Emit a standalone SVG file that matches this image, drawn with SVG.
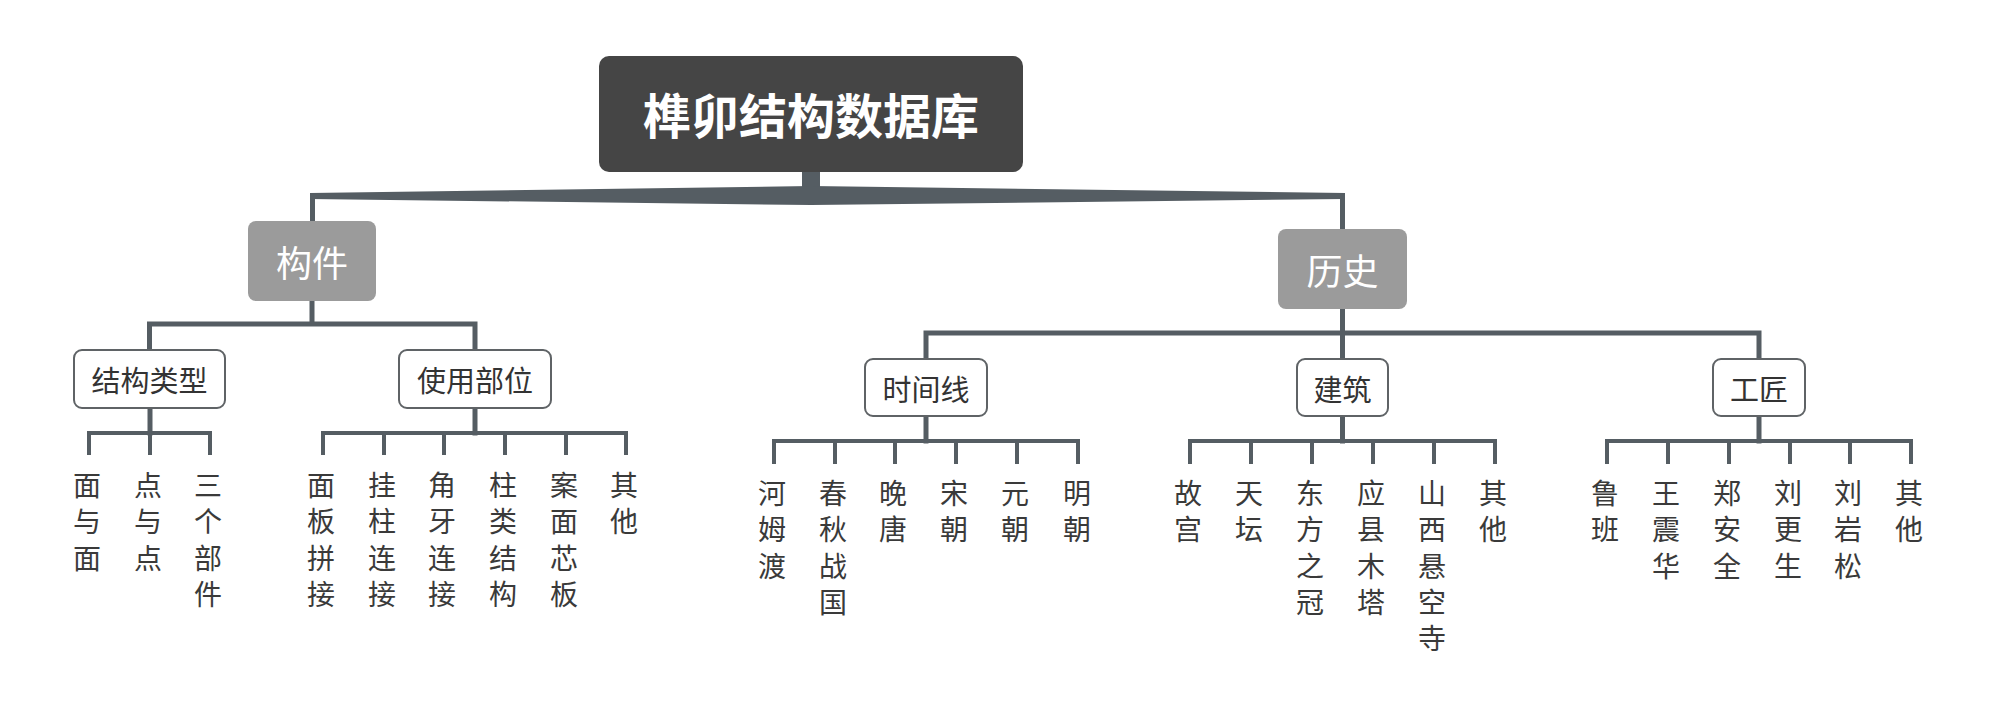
<svg xmlns="http://www.w3.org/2000/svg" width="2000" height="720" viewBox="0 0 2000 720">
<style>
.ln{stroke:#555d63;stroke-width:5;fill:none;stroke-linecap:square}
.lf{stroke:#555d63;stroke-width:4;fill:none;stroke-linecap:butt}
.sub{fill:#ffffff;stroke:#5f6366;stroke-width:2}
.cjk{font-family:"Noto Sans CJK SC","Noto Sans",sans-serif}
.t2{font-size:29px;fill:#333333;text-anchor:middle;dominant-baseline:central}
.t1{font-size:36px;fill:#ffffff;text-anchor:middle;dominant-baseline:central}
.leaf{font-size:28px;fill:#3a3a3a;text-anchor:middle;dominant-baseline:central}
</style>
<rect width="2000" height="720" fill="#ffffff"/>
<g id="connectors">
  <rect x="802" y="170" width="18" height="22" fill="#555d63"/>
  <polygon points="310,193 811,186 1345,193 1345,199 811,205 310,199" fill="#555d63"/>
  <rect x="310" y="193" width="5" height="30" fill="#555d63"/>
  <rect x="1340" y="193" width="5" height="38" fill="#555d63"/>
  <path class="ln" d="M312,301 V324 M149.5,350 V324 H475 V350"/>
  <path class="ln" d="M150,408 V433"/>
  <path class="lf" d="M89,433 H210 M89,431 V455 M150,433 V455 M210,431 V455"/>
  <path class="ln" d="M475,408 V433"/>
  <path class="lf" d="M323,433 H626 M323,431 V455 M384,433 V455 M444,433 V455 M505,433 V455 M566,433 V455 M626,431 V455"/>
  <path class="ln" d="M1342.5,309 V359 M926,359 V333 H1759 V359"/>
  <path class="ln" d="M926,416 V441"/>
  <path class="lf" d="M774,441 H1078 M774,439 V464 M835,441 V464 M895,441 V464 M956,441 V464 M1017,441 V464 M1078,439 V464"/>
  <path class="ln" d="M1342.5,416 V441"/>
  <path class="lf" d="M1190,441 H1495 M1190,439 V464 M1251,441 V464 M1312,441 V464 M1373,441 V464 M1434,441 V464 M1495,439 V464"/>
  <path class="ln" d="M1759,416 V441"/>
  <path class="lf" d="M1607,441 H1911 M1607,439 V464 M1668,441 V464 M1729,441 V464 M1790,441 V464 M1850,441 V464 M1911,439 V464"/>
</g>
<g id="root">
  <rect x="599" y="56" width="424" height="116" rx="10" fill="#454545"/>
  <text x="811" y="113" class="cjk" font-size="48" font-weight="bold" fill="#ffffff" text-anchor="middle" dominant-baseline="central">榫卯结构数据库</text>
</g>
<g id="n-goujian">
  <rect x="248" y="221" width="128" height="80" rx="8" fill="#9b9b9b"/>
  <text x="312" y="261" class="cjk t1">构件</text>
</g>
<g id="n-lishi">
  <rect x="1278" y="229" width="129" height="80" rx="8" fill="#9b9b9b"/>
  <text x="1342.5" y="269" class="cjk t1">历史</text>
</g>
<g id="n-jiegouleixing">
  <rect x="74" y="350" width="151" height="58" rx="8" class="sub"/>
  <text x="149.5" y="379" class="cjk t2">结构类型</text>
</g>
<g id="n-shiyongbuwei">
  <rect x="399" y="350" width="152" height="58" rx="8" class="sub"/>
  <text x="475" y="379" class="cjk t2">使用部位</text>
</g>
<g id="n-shijianxian">
  <rect x="865" y="359" width="122" height="57" rx="8" class="sub"/>
  <text x="926" y="387.5" class="cjk t2">时间线</text>
</g>
<g id="n-jianzhu">
  <rect x="1297" y="359" width="91" height="57" rx="8" class="sub"/>
  <text x="1342.5" y="387.5" class="cjk t2">建筑</text>
</g>
<g id="n-gongjiang">
  <rect x="1713" y="359" width="92" height="57" rx="8" class="sub"/>
  <text x="1759" y="387.5" class="cjk t2">工匠</text>
</g>
<g id="leaves-jiegou">
  <text id="l-mian" class="cjk leaf"><tspan x="87" y="484">面</tspan><tspan x="87" dy="36.3">与</tspan><tspan x="87" dy="36.3">面</tspan></text>
  <text id="l-dian" class="cjk leaf"><tspan x="148" y="484">点</tspan><tspan x="148" dy="36.3">与</tspan><tspan x="148" dy="36.3">点</tspan></text>
  <text id="l-sange" class="cjk leaf"><tspan x="208" y="484">三</tspan><tspan x="208" dy="36.3">个</tspan><tspan x="208" dy="36.3">部</tspan><tspan x="208" dy="36.3">件</tspan></text>
</g>
<g id="leaves-buwei">
  <text id="l-mianban" class="cjk leaf"><tspan x="321" y="484">面</tspan><tspan x="321" dy="36.3">板</tspan><tspan x="321" dy="36.3">拼</tspan><tspan x="321" dy="36.3">接</tspan></text>
  <text id="l-guazhu" class="cjk leaf"><tspan x="382" y="484">挂</tspan><tspan x="382" dy="36.3">柱</tspan><tspan x="382" dy="36.3">连</tspan><tspan x="382" dy="36.3">接</tspan></text>
  <text id="l-jiaoya" class="cjk leaf"><tspan x="442" y="484">角</tspan><tspan x="442" dy="36.3">牙</tspan><tspan x="442" dy="36.3">连</tspan><tspan x="442" dy="36.3">接</tspan></text>
  <text id="l-zhulei" class="cjk leaf"><tspan x="503" y="484">柱</tspan><tspan x="503" dy="36.3">类</tspan><tspan x="503" dy="36.3">结</tspan><tspan x="503" dy="36.3">构</tspan></text>
  <text id="l-anmian" class="cjk leaf"><tspan x="564" y="484">案</tspan><tspan x="564" dy="36.3">面</tspan><tspan x="564" dy="36.3">芯</tspan><tspan x="564" dy="36.3">板</tspan></text>
  <text id="l-qita1" class="cjk leaf"><tspan x="624" y="484">其</tspan><tspan x="624" dy="36.3">他</tspan></text>
</g>
<g id="leaves-shijian">
  <text id="l-hemudu" class="cjk leaf"><tspan x="772" y="492">河</tspan><tspan x="772" dy="36.3">姆</tspan><tspan x="772" dy="36.3">渡</tspan></text>
  <text id="l-chunqiu" class="cjk leaf"><tspan x="833" y="492">春</tspan><tspan x="833" dy="36.3">秋</tspan><tspan x="833" dy="36.3">战</tspan><tspan x="833" dy="36.3">国</tspan></text>
  <text id="l-wantang" class="cjk leaf"><tspan x="893" y="492">晚</tspan><tspan x="893" dy="36.3">唐</tspan></text>
  <text id="l-song" class="cjk leaf"><tspan x="954" y="492">宋</tspan><tspan x="954" dy="36.3">朝</tspan></text>
  <text id="l-yuan" class="cjk leaf"><tspan x="1015" y="492">元</tspan><tspan x="1015" dy="36.3">朝</tspan></text>
  <text id="l-ming" class="cjk leaf"><tspan x="1077" y="492">明</tspan><tspan x="1077" dy="36.3">朝</tspan></text>
</g>
<g id="leaves-jianzhu">
  <text id="l-gugong" class="cjk leaf"><tspan x="1188" y="492">故</tspan><tspan x="1188" dy="36.3">宫</tspan></text>
  <text id="l-tiantan" class="cjk leaf"><tspan x="1249" y="492">天</tspan><tspan x="1249" dy="36.3">坛</tspan></text>
  <text id="l-dongfang" class="cjk leaf"><tspan x="1310" y="492">东</tspan><tspan x="1310" dy="36.3">方</tspan><tspan x="1310" dy="36.3">之</tspan><tspan x="1310" dy="36.3">冠</tspan></text>
  <text id="l-yingxian" class="cjk leaf"><tspan x="1371" y="492">应</tspan><tspan x="1371" dy="36.3">县</tspan><tspan x="1371" dy="36.3">木</tspan><tspan x="1371" dy="36.3">塔</tspan></text>
  <text id="l-xuankong" class="cjk leaf"><tspan x="1432" y="492">山</tspan><tspan x="1432" dy="36.3">西</tspan><tspan x="1432" dy="36.3">悬</tspan><tspan x="1432" dy="36.3">空</tspan><tspan x="1432" dy="36.3">寺</tspan></text>
  <text id="l-qita2" class="cjk leaf"><tspan x="1493" y="492">其</tspan><tspan x="1493" dy="36.3">他</tspan></text>
</g>
<g id="leaves-gongjiang">
  <text id="l-luban" class="cjk leaf"><tspan x="1605" y="492">鲁</tspan><tspan x="1605" dy="36.3">班</tspan></text>
  <text id="l-wang" class="cjk leaf"><tspan x="1666" y="492">王</tspan><tspan x="1666" dy="36.3">震</tspan><tspan x="1666" dy="36.3">华</tspan></text>
  <text id="l-zheng" class="cjk leaf"><tspan x="1727" y="492">郑</tspan><tspan x="1727" dy="36.3">安</tspan><tspan x="1727" dy="36.3">全</tspan></text>
  <text id="l-liugeng" class="cjk leaf"><tspan x="1788" y="492">刘</tspan><tspan x="1788" dy="36.3">更</tspan><tspan x="1788" dy="36.3">生</tspan></text>
  <text id="l-liuyan" class="cjk leaf"><tspan x="1848" y="492">刘</tspan><tspan x="1848" dy="36.3">岩</tspan><tspan x="1848" dy="36.3">松</tspan></text>
  <text id="l-qita3" class="cjk leaf"><tspan x="1909" y="492">其</tspan><tspan x="1909" dy="36.3">他</tspan></text>
</g>
</svg>
